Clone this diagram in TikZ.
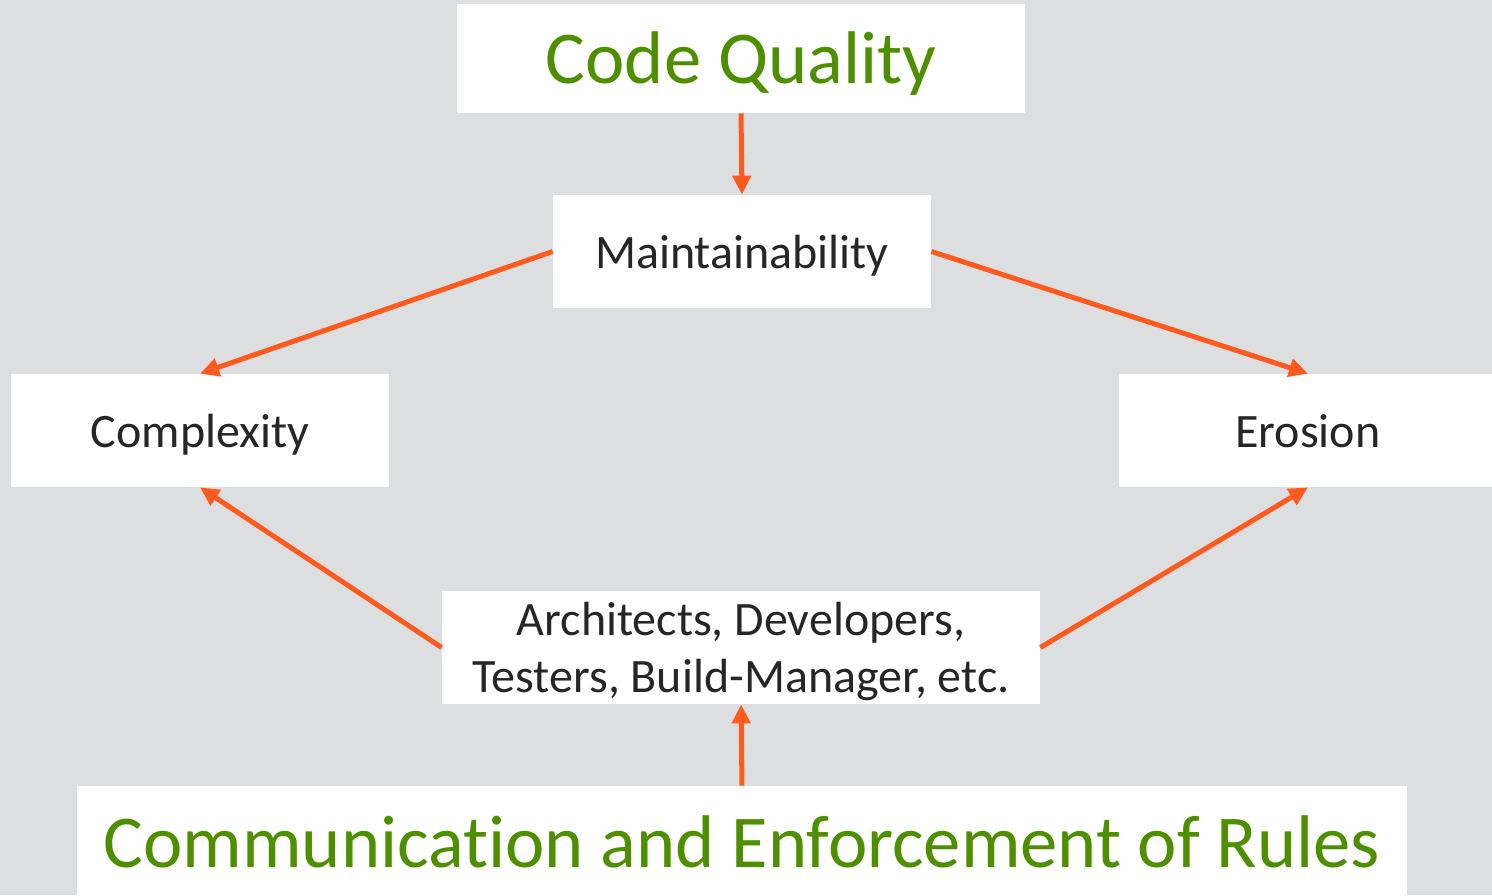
\documentclass[tikz,border=0pt]{standalone}
\usepackage{fontspec}
\setmainfont[Ligatures=NoCommon]{Carlito}
\usetikzlibrary{arrows.meta}

\definecolor{bggrey}{RGB}{221,222,224}
\definecolor{cqgreen}{RGB}{78,143,0}
\definecolor{arrorange}{RGB}{255,90,30}
\definecolor{txtdark}{RGB}{38,38,38}

\tikzset{every picture/.style={line width=0.75pt}}
\tikzset{
  whitebox/.style={fill=white, inner sep=0pt, minimum height=113pt},
  bigtext/.style={text=cqgreen, font=\fontsize{74.6}{80}\selectfont, text height=49pt, text depth=0pt},
  smalltext/.style={text=txtdark, font=\fontsize{48}{56}\selectfont, text height=33pt, text depth=0pt},
  link/.style={draw=arrorange, line width=5pt, -{Triangle[length=19pt,width=18pt]}}
}

\begin{document}
\begin{tikzpicture}[x=1pt,y=1pt,yscale=-1,xscale=1]
\useasboundingbox (0,0) rectangle (1492,895);
\clip (0,0) rectangle (1492,895);

%Shape: Rectangle [background]
\fill [bggrey] (0,0) rectangle (1492,895);

% Text Node
\node (cq) at (741,58.5) [whitebox, bigtext, minimum width=568pt, minimum height=109pt] {Code Quality};
% Text Node
\node (mt) at (742,251.5) [whitebox, smalltext, minimum width=378pt] {Maintainability};
% Text Node
\node (cplx) at (200,430.5) [whitebox, smalltext, minimum width=378pt] {Complexity};
% Text Node
\node (ero) at (1308,430.5) [whitebox, smalltext, minimum width=378pt] {Erosion};
% Text Node
\node (arch) at (741,647.5) [whitebox, smalltext, minimum width=598pt, align=center,
  font=\fontsize{48}{57}\selectfont, text height=89pt, text depth=0pt] {Architects, Developers,\\Testers, Build-Manager, etc.};
% Text Node
\node (comm) at (742,842.5) [whitebox, bigtext, minimum width=1330pt] {Communication and Enforcement of Rules};

%Straight Lines
\draw [link] (cq.south) -- (mt.north);
%Straight Lines
\draw [link] (mt.west) -- (cplx.north);
%Straight Lines
\draw [link] (mt.east) -- (ero.north);
%Straight Lines
\draw [link] (arch.west) -- (cplx.south);
%Straight Lines
\draw [link] (arch.east) -- (ero.south);
%Straight Lines
\draw [link] (comm.north) -- (arch.south);

\end{tikzpicture}
\end{document}
